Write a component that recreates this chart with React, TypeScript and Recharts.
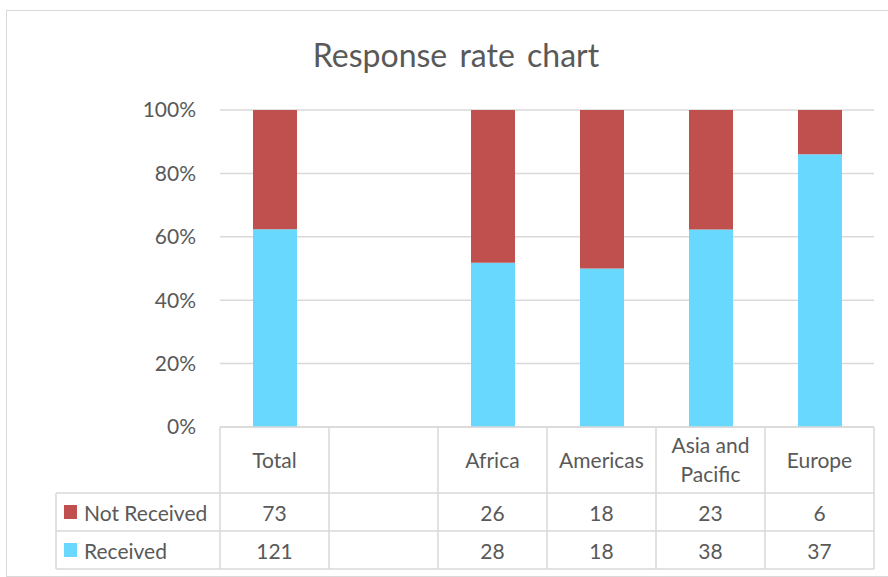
import { BarChart, Bar, XAxis, YAxis, CartesianGrid } from 'recharts'

const categories = ['Total', '', 'Africa', 'Americas', 'Asia and Pacific', 'Europe']
const notReceived = [73, null, 26, 18, 23, 6]
const received = [121, null, 28, 18, 38, 37]
const yTicks = [0, 0.2, 0.4, 0.6, 0.8, 1]

const RED = '#C0504D'
const CYAN = '#69D8FF'
const GRID = '#D9D9D9'
const TEXT = '#595959'
const FONT = 'Lato, "Noto Sans", sans-serif'

const W = 888
const H = 577
const PLOT_LEFT = 220
const PLOT_RIGHT = 874
const PLOT_BOTTOM = 427
const COL_W = (PLOT_RIGHT - PLOT_LEFT) / categories.length
const ROW1 = 493
const ROW2 = 531
const ROW3 = 569
const LEGEND_LEFT = 56

const data = categories.map((name, i) => ({
  name,
  received: received[i],
  notReceived: notReceived[i],
}))

const rows = [
  { label: 'Not Received', color: RED, values: notReceived, top: ROW1, bottom: ROW2 },
  { label: 'Received', color: CYAN, values: received, top: ROW2, bottom: ROW3 },
]

// split a label into lines of at most n chars, like the table header does
function wrap(text: string, n: number) {
  const lines: string[] = []
  let cur = ''
  for (const w of text.split(' ')) {
    if (cur && (cur + ' ' + w).length > n) {
      lines.push(cur)
      cur = w
    } else {
      cur = cur ? cur + ' ' + w : w
    }
  }
  if (cur) lines.push(cur)
  return lines
}

function TableColumn(props: any) {
  const { x, payload } = props
  const i = props.index ?? payload.index
  const left = x - COL_W / 2
  const right = x + COL_W / 2
  const lines = wrap(String(payload.value), 9)
  const headMid = (PLOT_BOTTOM + ROW1) / 2
  const lh = 29
  return (
    <g fontFamily={FONT} fontSize={21} fill={TEXT}>
      <line x1={left} x2={right} y1={PLOT_BOTTOM} y2={PLOT_BOTTOM} stroke={GRID} strokeWidth={1.5} />
      <line x1={left} x2={left} y1={PLOT_BOTTOM} y2={ROW3} stroke={GRID} strokeWidth={1.5} />
      {i === categories.length - 1 && (
        <line x1={right} x2={right} y1={PLOT_BOTTOM} y2={ROW3} stroke={GRID} strokeWidth={1.5} />
      )}
      {[ROW1, ROW2, ROW3].map((y) => (
        <line key={y} x1={left} x2={right} y1={y} y2={y} stroke={GRID} strokeWidth={1.5} />
      ))}
      {lines.map((l, k) => (
        <text
          key={k}
          x={x}
          y={headMid - 1 + (k - (lines.length - 1) / 2) * lh}
          textAnchor="middle"
          dominantBaseline="central"
        >
          {l}
        </text>
      ))}
      {rows.map((r) => (
        <text
          key={r.label}
          x={x}
          y={(r.top + r.bottom) / 2}
          textAnchor="middle"
          dominantBaseline="central"
        >
          {r.values[i] ?? ''}
        </text>
      ))}
      {i === 0 && (
        <g>
          <line x1={LEGEND_LEFT} x2={left} y1={ROW1} y2={ROW1} stroke={GRID} strokeWidth={1.5} />
          <line x1={LEGEND_LEFT} x2={left} y1={ROW2} y2={ROW2} stroke={GRID} strokeWidth={1.5} />
          <line x1={LEGEND_LEFT} x2={left} y1={ROW3} y2={ROW3} stroke={GRID} strokeWidth={1.5} />
          <line x1={LEGEND_LEFT} x2={LEGEND_LEFT} y1={ROW1} y2={ROW3} stroke={GRID} strokeWidth={1.5} />
          {rows.map((r) => (
            <g key={r.label}>
              <rect x={64} y={(r.top + r.bottom) / 2 - 7} width={13} height={14} fill={r.color} />
              <text x={84} y={(r.top + r.bottom) / 2} dominantBaseline="central">
                {r.label}
              </text>
            </g>
          ))}
        </g>
      )}
    </g>
  )
}

export default function App() {
  return (
    <div style={{ position: 'relative', width: W, height: H, overflow: 'hidden', background: '#fff' }}>
      <style>{'body{margin:0}'}</style>
      <div
        style={{
          position: 'absolute',
          left: 6,
          top: 10,
          width: 920,
          height: 565,
          border: `1px solid ${GRID}`,
        }}
      />
      <div
        style={{
          position: 'absolute',
          left: 256,
          top: 35,
          width: 400,
          textAlign: 'center',
          fontFamily: FONT,
          fontSize: 32,
          color: TEXT,
          wordSpacing: 4,
        }}
      >
        Response rate chart
      </div>
      <div style={{ position: 'absolute', left: 0, top: 0 }}>
        <BarChart
          width={W}
          height={H}
          data={data}
          stackOffset="expand"
          margin={{ top: 110, right: W - PLOT_RIGHT, left: 0, bottom: 8 }}
        >
          <CartesianGrid vertical={false} stroke={GRID} strokeWidth={1.5} />
          <XAxis
            dataKey="name"
            height={142}
            interval={0}
            tickLine={false}
            axisLine={false}
            tick={<TableColumn />}
          />
          <YAxis
            width={PLOT_LEFT}
            domain={[0, 1]}
            ticks={yTicks}
            tickFormatter={(v: number) => `${Math.round(v * 100)}%`}
            tickLine={false}
            axisLine={false}
            tickMargin={18}
            tick={{ fill: TEXT, fontSize: 21, fontFamily: FONT }}
          />
          <Bar dataKey="received" stackId="a" fill={CYAN} barSize={44} isAnimationActive={false} />
          <Bar dataKey="notReceived" stackId="a" fill={RED} barSize={44} isAnimationActive={false} />
        </BarChart>
      </div>
    </div>
  )
}
